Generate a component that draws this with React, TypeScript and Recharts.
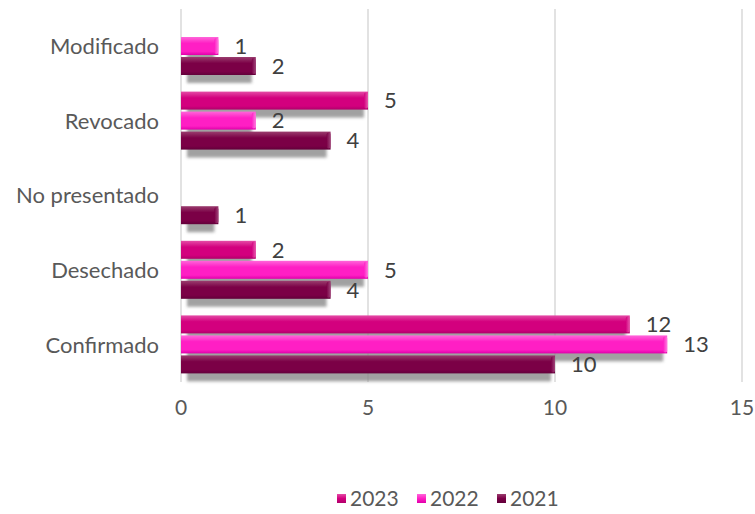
import React from 'react';
import { BarChart, Bar, XAxis, YAxis, CartesianGrid, LabelList } from 'recharts';

const categories = ['Modificado', 'Revocado', 'No presentado', 'Desechado', 'Confirmado'];
const values2023 = [null, 5, null, 2, 12];
const values2022 = [1, 2, null, 5, 13];
const values2021 = [2, 4, 1, 4, 10];
const xTicks = [0, 5, 10, 15];

const data = categories.map((name, i) => ({
  name,
  y2023: values2023[i],
  y2022: values2022[i],
  y2021: values2021[i],
}));

const SERIES = [
  { key: 'y2023', label: '2023', top: '#E44CA6', base: '#D3007E', dark: '#B0006A', cap: '#E85AAE' },
  { key: 'y2022', label: '2022', top: '#FF66DA', base: '#FF1FC4', dark: '#E000AA', cap: '#FF7BE0' },
  { key: 'y2021', label: '2021', top: '#9A3D6E', base: '#7B0046', dark: '#62003A', cap: '#A0457A' },
];

const FONT = 'Lato, "Open Sans", sans-serif';

const makeShape = (id: string) => (props: any) => {
  const { x, y, width, height } = props;
  if (!width || width <= 0) return <g />;
  const sw = Math.max(width - 10, 0);
  return (
    <g>
      <rect x={x + 6} y={y + 8} width={sw} height={height} fill="#8a8a8a" opacity={0.8} filter="url(#blurShadow)" />
      <rect x={x} y={y} width={width} height={height} fill={`url(#grad-${id})`} />
      <rect x={x + width - 4} y={y + 1} width={4} height={height - 2} rx={2} fill={`url(#cap-${id})`} />
    </g>
  );
};

export default function App() {
  return (
    <div style={{ position: 'absolute', left: 0, top: 0, width: 755, height: 514, background: '#fff' }}>
      <BarChart
        width={755}
        height={514}
        data={data}
        layout="vertical"
        margin={{ top: 9, right: 13, bottom: 92, left: 0 }}
        barSize={18}
        barGap={2}
      >
        <defs>
          <filter id="blurShadow" x="-20%" y="-50%" width="140%" height="200%">
            <feGaussianBlur stdDeviation="1.6" />
          </filter>
          {SERIES.map((s) => (
            <linearGradient key={s.key} id={`grad-${s.key}`} x1="0" y1="0" x2="0" y2="1">
              <stop offset="0%" stopColor={s.top} />
              <stop offset="35%" stopColor={s.base} />
              <stop offset="80%" stopColor={s.base} />
              <stop offset="100%" stopColor={s.dark} />
            </linearGradient>
          ))}
          {SERIES.map((s) => (
            <linearGradient key={s.key} id={`cap-${s.key}`} x1="0" y1="0" x2="1" y2="0">
              <stop offset="0%" stopColor={s.base} />
              <stop offset="100%" stopColor={s.cap} />
            </linearGradient>
          ))}
        </defs>
        <CartesianGrid horizontal={false} stroke="#d9d9d9" strokeWidth={1.5} />
        <XAxis
          type="number"
          domain={[0, 15]}
          ticks={xTicks}
          axisLine={false}
          tickLine={false}
          tickMargin={12}
          height={40}
          tick={{ fill: '#595959', fontSize: 21, fontFamily: FONT }}
        />
        <YAxis
          type="category"
          dataKey="name"
          width={181}
          axisLine={false}
          tickLine={false}
          tickMargin={16}
          tick={{ fill: '#595959', fontSize: 22, fontFamily: FONT }}
        />
        {SERIES.map((s) => (
          <Bar key={s.key} dataKey={s.key} name={s.label} fill={s.base} shape={makeShape(s.key)} isAnimationActive={false}>
            <LabelList dataKey={s.key} position="right" offset={16} fill="#404040" fontSize={22} fontFamily={FONT} />
          </Bar>
        ))}
      </BarChart>
      <div
        style={{
          position: 'absolute',
          left: 337,
          top: 485,
          display: 'flex',
          fontFamily: FONT,
          fontSize: 21,
          color: '#595959',
          lineHeight: '26px',
        }}
      >
        {SERIES.map((s) => (
          <div key={s.key} style={{ display: 'flex', alignItems: 'center', width: 80 }}>
            <span
              style={{
                width: 9,
                height: 9,
                display: 'inline-block',
                marginRight: 4,
                background: `linear-gradient(${s.top}, ${s.base} 50%, ${s.dark})`,
              }}
            />
            <span>{s.label}</span>
          </div>
        ))}
      </div>
    </div>
  );
}
